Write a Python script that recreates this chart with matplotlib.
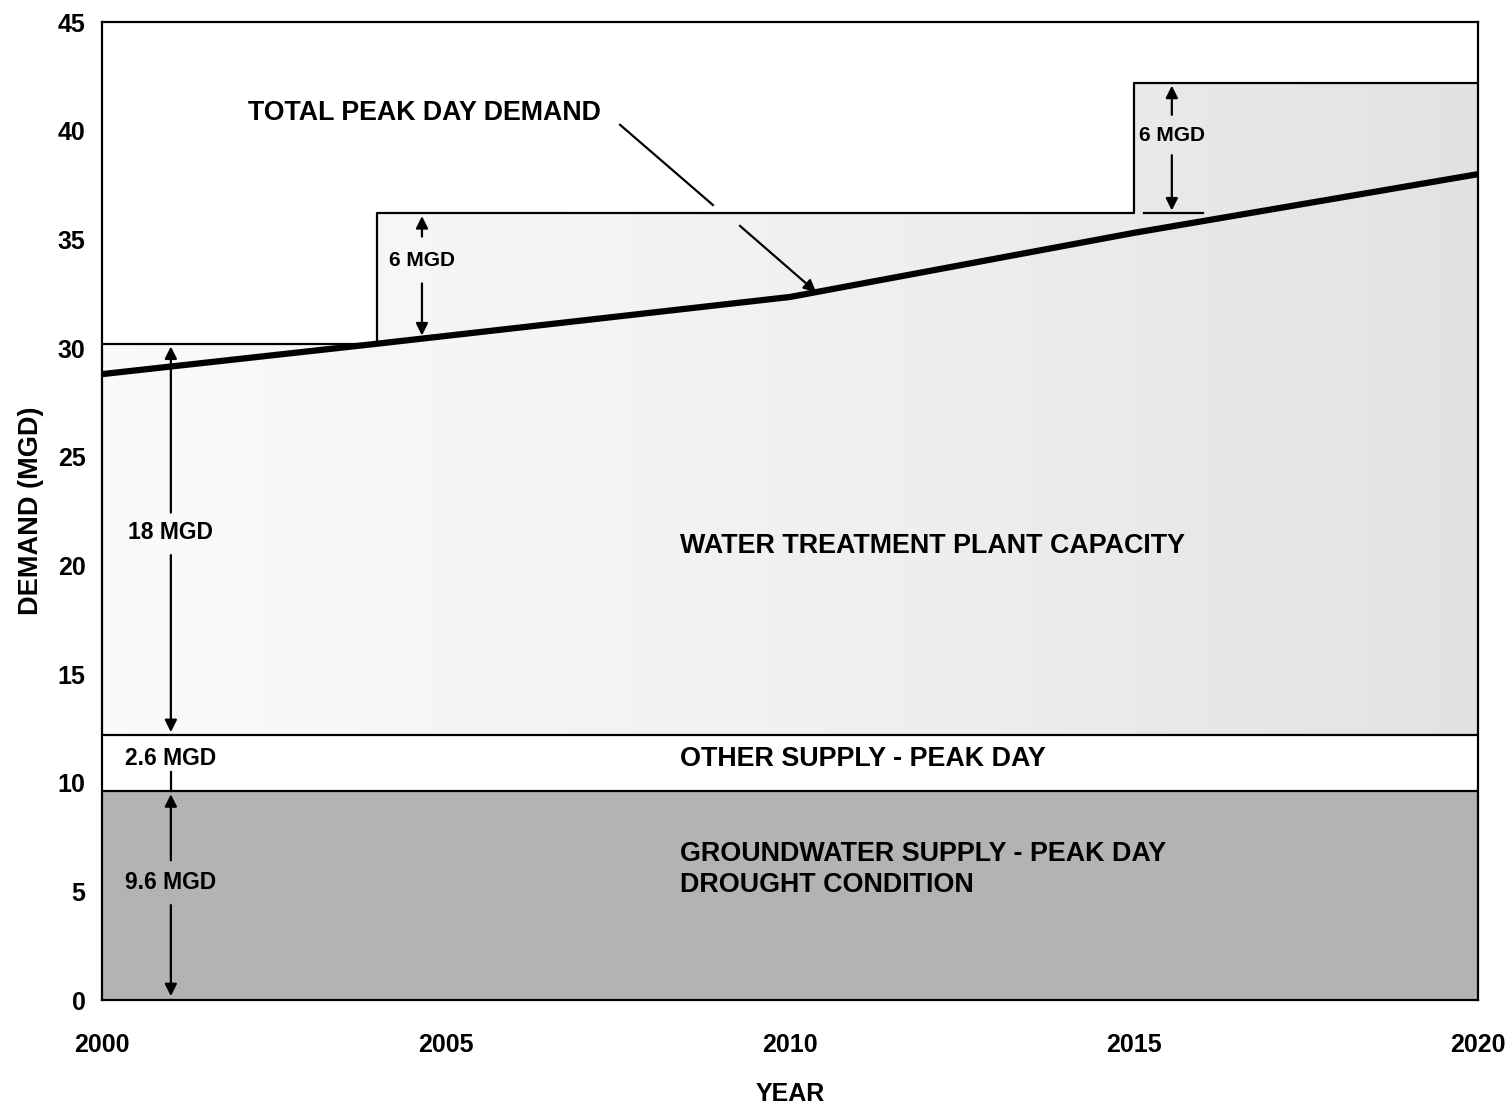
import numpy as np
import matplotlib
matplotlib.use('Agg')
import matplotlib.pyplot as plt

# demand curve (MGD)
demand_years = [2000, 2004, 2010, 2015, 2020]
demand_mgd = [28.8, 30.2, 32.35, 35.3, 38.0]

# treatment plant capacity steps (step starts at year)
cap_years = [2000, 2004, 2015, 2020]
cap_mgd = [30.2, 36.2, 42.2, 42.2]

groundwater = 9.6
other_supply = 2.6
supply_top = groundwater + other_supply

plt.rcParams['font.family'] = ['Liberation Sans', 'DejaVu Sans']
plt.rcParams['font.weight'] = 'bold'

fig = plt.figure(figsize=(15.12, 11.07), dpi=100)
ax = fig.add_axes([0.0675, 0.0966, 0.91, 0.8835])

# capacity area - light stipple approximated by gradient
poly = ax.fill_between(cap_years, supply_top, cap_mgd, step='post',
                       facecolor='none', edgecolor='none')
grad = np.linspace(0.04, 0.2, 200).reshape(1, -1)
im = ax.imshow(grad, extent=[2000, 2020, supply_top, max(cap_mgd)],
               aspect='auto', cmap='Greys', vmin=0, vmax=1, zorder=1)
im.set_clip_path(poly.get_paths()[0], ax.transData)
ax.step(cap_years, cap_mgd, where='post', color='k', lw=1.6, zorder=3)

# groundwater and other supply
ax.fill_between([2000, 2020], 0, groundwater, facecolor='#b3b3b3',
                edgecolor='none', zorder=1)
ax.fill_between([2000, 2020], groundwater, supply_top, facecolor='white',
                edgecolor='none', zorder=1)
ax.axhline(groundwater, color='k', lw=1.6, zorder=3)
ax.axhline(supply_top, color='k', lw=1.6, zorder=3)

# demand line
ax.plot(demand_years, demand_mgd, color='k', lw=4.5, zorder=4,
        solid_capstyle='butt')

ax.set_xlim(2000, 2020)
ax.set_ylim(0, 45)
ax.set_xticks([2000, 2005, 2010, 2015, 2020])
ax.set_yticks(range(0, 46, 5))
ax.tick_params(length=0, labelsize=18, pad=12)
ax.tick_params(axis='x', pad=24)
for s in ax.spines.values():
    s.set_linewidth(1.6)
ax.set_xlabel('YEAR', fontsize=18, fontweight='bold', labelpad=18)
ax.set_ylabel('DEMAND (MGD)', fontsize=19.5, fontweight='bold', labelpad=10)

arrow = dict(arrowstyle='-|>', color='k', lw=1.6, mutation_scale=18)


def dim(x, y0, y1):
    ax.annotate('', xy=(x, y1), xytext=(x, y0), arrowprops=arrow, zorder=5)


# 6 MGD markers
dim(2004.65, 35.0, 36.2)
dim(2004.65, 33.1, 30.45)
ax.text(2004.65, 34.05, '6 MGD', ha='center', va='center', fontsize=15)
dim(2015.55, 40.6, 42.2)
dim(2015.55, 39.0, 36.2)
ax.plot([2015.15, 2016.0], [36.2, 36.2], color='k', lw=1.6, zorder=5)
ax.text(2015.55, 39.8, '6 MGD', ha='center', va='center', fontsize=15)

# left dimension markers
dim(2001.0, 22.3, 30.2)
dim(2001.0, 20.6, 12.2)
ax.text(2001.0, 21.5, '18 MGD', ha='center', va='center', fontsize=16.5)
ax.plot([2001.0, 2001.0], [10.5, 9.6], color='k', lw=1.6, zorder=5)
ax.text(2001.0, 11.1, '2.6 MGD', ha='center', va='center', fontsize=16.5)
dim(2001.0, 6.3, 9.6)
dim(2001.0, 4.5, 0.05)
ax.text(2001.0, 5.4, '9.6 MGD', ha='center', va='center', fontsize=16.5)

# labels
ax.text(2002.12, 40.8, 'TOTAL PEAK DAY DEMAND', ha='left', va='center',
        fontsize=19.3)
ax.plot([2007.53, 2008.88], [40.27, 36.58], color='k', lw=1.6, zorder=5)
ax.annotate('', xy=(2010.41, 32.49), xytext=(2009.24, 35.71),
            arrowprops=arrow, zorder=5)
ax.text(2008.4, 20.9, 'WATER TREATMENT PLANT CAPACITY', ha='left',
        va='center', fontsize=19.4)
ax.text(2008.4, 11.1, 'OTHER SUPPLY - PEAK DAY', ha='left', va='center',
        fontsize=19.4)
ax.text(2008.4, 6.0, 'GROUNDWATER SUPPLY - PEAK DAY\nDROUGHT CONDITION',
        ha='left', va='center', fontsize=19.4, linespacing=1.25)

fig.savefig('out.png', dpi=100)
